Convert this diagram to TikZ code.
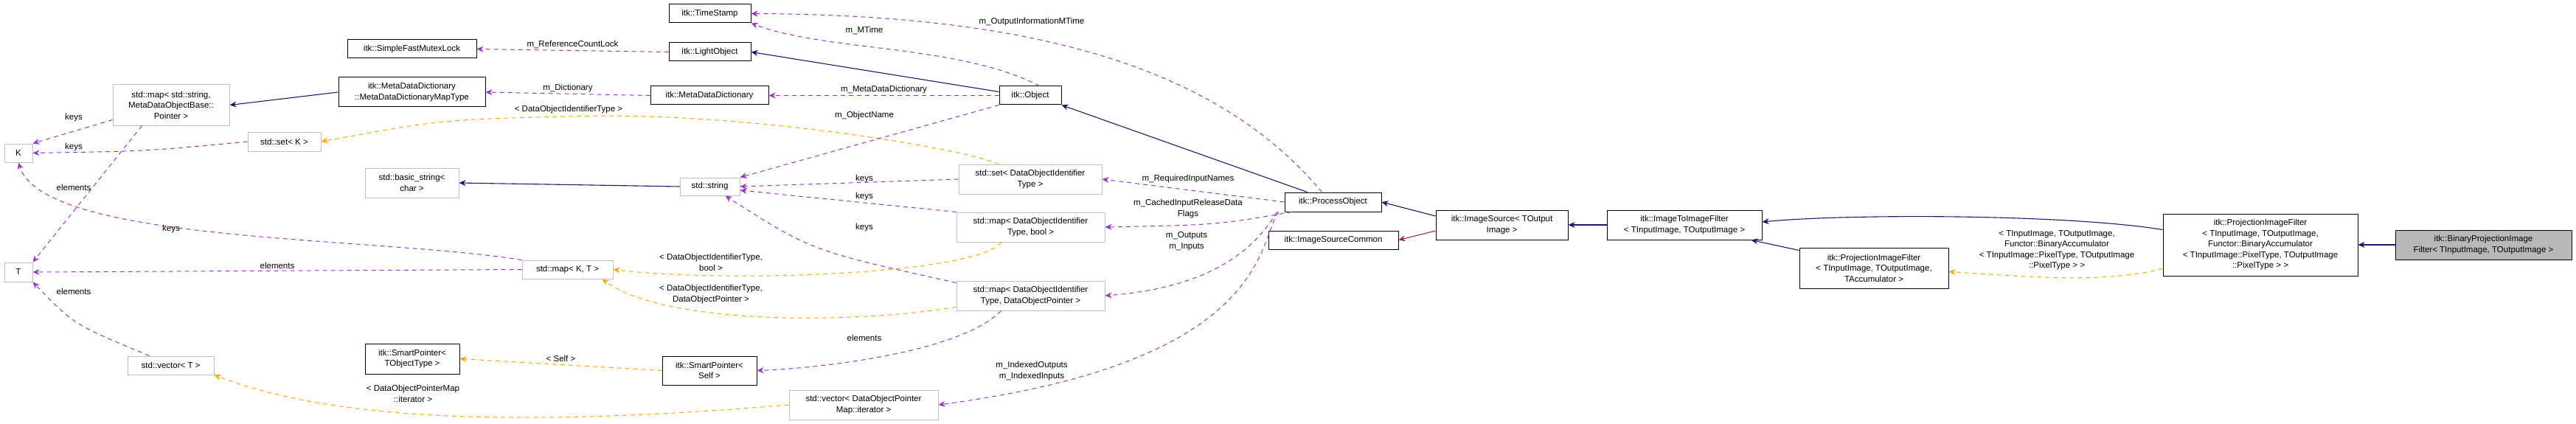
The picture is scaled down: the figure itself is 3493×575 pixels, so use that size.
\documentclass[tikz,border=0pt]{standalone}
\usepackage{fontspec}
\setmainfont{Liberation Sans}
\usetikzlibrary{arrows.meta}
\definecolor{pur}{HTML}{9A32CD}
\definecolor{nav}{HTML}{191970}
\definecolor{org}{HTML}{FFA500}
\definecolor{fbr}{HTML}{A52A2A}
\begin{document}
\begin{tikzpicture}[x=1pt,y=-1pt,
  every node/.style={font=\fontsize{11.5}{14.5}\selectfont,inner sep=1pt,align=center},
  doc/.style={draw=black,line width=1pt,rectangle,fill=white},
  ext/.style={draw=black!25,line width=1pt,rectangle,fill=white},
  inh/.style={draw=nav,line width=1.1pt,-{Stealth[length=9pt,width=8pt]}},
  use/.style={draw=pur,line width=1pt,dashed,dash pattern=on 6pt off 5pt,-{Stealth[length=9pt,width=8pt]}},
  tpl/.style={draw=org,line width=1pt,dashed,dash pattern=on 6pt off 5pt,-{Stealth[length=9pt,width=8pt]}},
  lbl/.style={fill=none,draw=none}]
\useasboundingbox (0,0) rectangle (3493,575);
\newcommand\bx[6]{\node[#1,minimum width=#4pt,minimum height=#5pt] (#2) at #3 {#6};}
\bx{doc}{sfml}{(558.5,66.5)}{175}{25}{itk::SimpleFastMutexLock}
\bx{doc}{mddmt}{(558.5,125)}{199}{40}{itk::MetaDataDictionary\\::MetaDataDictionaryMapType}
\bx{ext}{mapstr}{(232,142.5)}{158}{55}{std::map< std::string,\\ MetaDataObjectBase::\\Pointer >}
\bx{ext}{K}{(25,207.5)}{38}{25}{K}
\bx{ext}{setK}{(385.5,192)}{99}{26}{std::set< K >}
\bx{ext}{bstr}{(558.5,248)}{127}{40}{std::basic\_string<\\ char >}
\bx{ext}{T}{(25,369)}{38}{26}{T}
\bx{ext}{mapKT}{(769.5,365.5)}{123}{25}{std::map< K, T >}
\bx{doc}{spT}{(559,486.5)}{128}{41}{itk::SmartPointer<\\ TObjectType >}
\bx{ext}{vecT}{(231.5,495.5)}{117}{25}{std::vector< T >}
\bx{doc}{ts}{(962.5,18.5)}{111}{25}{itk::TimeStamp}
\bx{doc}{lo}{(962.5,70.5)}{111}{25}{itk::LightObject}
\bx{doc}{mdd}{(962,129.5)}{160}{25}{itk::MetaDataDictionary}
\bx{doc}{obj}{(1397,129.5)}{84}{25}{itk::Object}
\bx{ext}{str}{(962.5,253)}{81}{24}{std::string}
\bx{ext}{setD}{(1397,243)}{194}{40}{std::set< DataObjectIdentifier\\Type >}
\bx{ext}{mapDB}{(1397.5,308)}{201}{40}{std::map< DataObjectIdentifier\\Type, bool >}
\bx{ext}{mapDP}{(1397.5,401)}{201}{40}{std::map< DataObjectIdentifier\\Type, DataObjectPointer >}
\bx{doc}{spS}{(962,502.5)}{128}{39}{itk::SmartPointer<\\ Self >}
\bx{ext}{vecD}{(1171,549)}{202}{40}{std::vector< DataObjectPointer\\Map::iterator >}
\bx{doc}{po}{(1807.5,274)}{131}{26}{itk::ProcessObject}
\bx{doc}{isc}{(1808,325.5)}{176}{25}{itk::ImageSourceCommon}
\bx{doc}{is}{(2036.5,305)}{179}{40}{itk::ImageSource< TOutput\\Image >}
\bx{doc}{itif}{(2284,305)}{210}{40}{itk::ImageToImageFilter\\< TInputImage, TOutputImage >}
\bx{doc}{pfs}{(2541,363.5)}{202}{55}{itk::ProjectionImageFilter\\< TInputImage, TOutputImage,\\ TAccumulator >}
\bx{doc}{pfb}{(3065,332)}{264}{84}{itk::ProjectionImageFilter\\< TInputImage, TOutputImage,\\ Functor::BinaryAccumulator\\< TInputImage::PixelType, TOutputImage\\::PixelType > >}
\node[draw=black,line width=1pt,fill=black!28,minimum width=239pt,minimum height=40pt] (bin) at (3367.5,332) {itk::BinaryProjectionImage\\Filter< TInputImage, TOutputImage >};
% edges
\draw[use] (lo.west) -- node[lbl,above=1pt]{m\_ReferenceCountLock} (sfml.east);
\draw[use] (mdd.west) -- node[lbl,above=1pt]{m\_Dictionary} (mddmt.east);
\draw[inh] (mddmt.west) -- (mapstr.east);
\draw[use] (mapstr.south west) ++(0,-8) .. controls (110,175) .. (K.north east);
\node[lbl] at (100,160) {keys};
\draw[use] ([xshift=40pt]mapstr.south west) -- (T.north east);
\node[lbl] at (100,254) {elements};
\draw[use] (setK.west) .. controls (200,205) .. (K.east);
\node[lbl] at (100,200) {keys};
\draw[tpl] (setD.north west) ++(55,0) .. controls (1300,200) and (1000,150) .. (771,158) .. controls (600,162) .. (setK.east);
\node[lbl] at (771,149) {< DataObjectIdentifierType >};
\draw[inh] (str.west) -- (bstr.east);
\draw[use] (mapKT.north west) .. controls (500,320) and (60,330) .. (K.south);
\node[lbl] at (232,311) {keys};
\draw[use] (mapKT.west) -- node[lbl,above=1pt]{elements} (T.east);
\draw[use] ([xshift=30pt]vecT.north west) .. controls (100,440) .. (T.south east);
\node[lbl] at (100,395) {elements};
\draw[tpl] ([xshift=-40pt]mapDB.south) .. controls (1330,370) and (1000,385) .. (mapKT.east);
\node[lbl] at (964,356) {< DataObjectIdentifierType,\\bool >};
\draw[tpl] ([yshift=5pt]mapDP.south west) .. controls (1150,440) and (900,440) .. ([xshift=-15pt]mapKT.south east);
\node[lbl] at (964,399) {< DataObjectIdentifierType,\\ DataObjectPointer >};
\draw[use] ([xshift=-40pt]mapDP.south) .. controls (1300,480) and (1100,500) .. (spS.east);
\node[lbl] at (1172,458) {elements};
\draw[tpl] (spS.west) -- node[lbl,above=2pt]{< Self >} (spT.east);
\draw[tpl] (vecD.west) .. controls (700,580) and (450,570) .. (vecT.south east);
\node[lbl] at (560,534) {< DataObjectPointerMap\\::iterator >};
\draw[use] ([xshift=-30pt]obj.north east) .. controls (1300,60) and (1120,70) .. (ts.south east);
\node[lbl] at (1172,41) {m\_MTime};
\draw[inh] (obj.west) ++(0,-5) -- (lo.east);
\draw[use] (obj.west) -- node[lbl,above=1pt]{m\_MetaDataDictionary} (mdd.east);
\draw[use] (obj.south west) -- (str.north east);
\node[lbl] at (1172,157) {m\_ObjectName};
\draw[use] (setD.west) -- (str.east);
\node[lbl] at (1172,243) {keys};
\draw[use] (mapDB.north west) -- ([yshift=-5pt]str.east);
\node[lbl] at (1172,267) {keys};
\draw[use] ([yshift=-3pt]mapDP.north west) .. controls (1100,340) .. ([xshift=-20pt]str.south east);
\node[lbl] at (1172,309) {keys};
\draw[use] ([xshift=-15pt]po.north) .. controls (1650,90) and (1400,20) .. (ts.east);
\node[lbl] at (1399,30) {m\_OutputInformationMTime};
\draw[inh] ([xshift=-35pt]po.north) -- (obj.south east);
\draw[use] (po.west) -- (setD.east);
\node[lbl] at (1611,243) {m\_RequiredInputNames};
\draw[use] ([xshift=10pt]po.south west) .. controls (1650,305) .. (mapDB.east);
\node[lbl] at (1611,283) {m\_CachedInputReleaseData\\Flags};
\draw[use] ([xshift=-10pt]po.south west) .. controls (1700,340) and (1640,390) .. (mapDP.east);
\node[lbl] at (1609,327) {m\_Outputs\\m\_Inputs};
\draw[use] ([xshift=-8pt]po.south west) .. controls (1705,330) and (1720,490) .. (vecD.east);
\node[lbl] at (1399,503) {m\_IndexedOutputs\\m\_IndexedInputs};
\draw[inh] ([yshift=12pt]is.west) -- (po.east);
\draw[fbr,line width=1.1pt,-{Stealth[length=9pt,width=8pt]}] ([yshift=-8pt]is.west) -- (isc.east);
\draw[inh] (itif.west) -- (is.east);
\draw[inh] ([yshift=-4pt]pfs.north west) -- ([xshift=-15pt]itif.south east);
\draw[inh] ([yshift=-22pt]pfb.north west) .. controls (2800,290) and (2500,290) .. ([yshift=4pt]itif.east);
\draw[tpl] ([yshift=10pt]pfb.south west) .. controls (2850,385) and (2750,375) .. ([yshift=-5pt]pfs.east);
\node[lbl] at (2789,339) {< TInputImage, TOutputImage,\\Functor::BinaryAccumulator\\< TInputImage::PixelType, TOutputImage\\::PixelType > >};
\draw[inh] (bin.west) -- (pfb.east);
\end{tikzpicture}
\end{document}
